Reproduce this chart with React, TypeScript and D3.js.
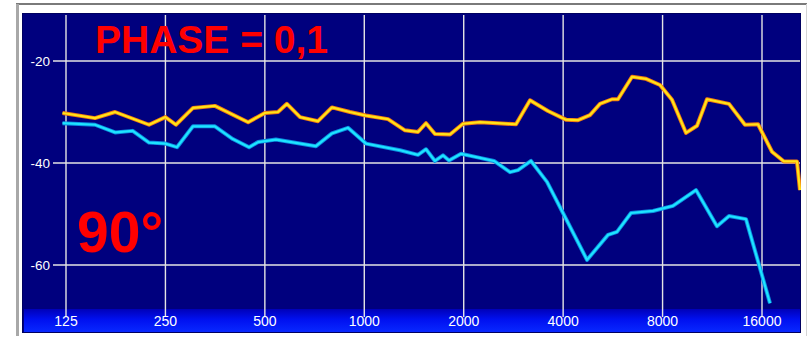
import React, { useRef, useEffect } from 'react'
import * as d3 from 'd3'

// x ticks (Hz) and y ticks (dB)
const FREQ_TICKS = [125, 250, 500, 1000, 2000, 4000, 8000, 16000]
const DB_TICKS = [-20, -40, -60]

// yellow curve
const yellowFreq = [
  122, 153, 176, 223, 250, 269, 303, 353, 445, 500, 548, 583, 639, 724, 798, 905,
  1012, 1180, 1328, 1454, 1538, 1637, 1818, 1990, 2240, 2880, 3175, 3599, 4080,
  4436, 4823, 5172, 5623, 5863, 6465, 7128, 7858, 8544, 9421, 10171, 10904,
  12712, 14210, 15560, 17158, 18647, 20418, 20850,
]
const yellowDb = [
  -30.2, -31.2, -30.0, -32.5, -31.0, -32.5, -29.2, -28.8, -32.0, -30.2, -30.0,
  -28.4, -31.0, -31.8, -29.1, -30.0, -30.7, -31.4, -33.6, -33.9, -32.2, -34.3,
  -34.4, -32.3, -32.0, -32.4, -27.7, -29.8, -31.5, -31.6, -30.6, -28.4, -27.5,
  -27.5, -23.1, -23.5, -24.7, -27.6, -34.1, -32.7, -27.5, -28.4, -32.5, -32.4,
  -37.8, -39.7, -39.7, -45.3,
]

// cyan curve
const cyanFreq = [
  122, 153, 176, 199, 223, 250, 271, 303, 353, 400, 448, 477, 540, 714, 798, 893,
  1012, 1283, 1454, 1538, 1637, 1731, 1805, 1963, 2240, 2470, 2762, 2920, 3197,
  3574, 3996, 4724, 5469, 5822, 6420, 7485, 8603, 10100, 11691, 12712, 14309,
  16917,
]
const cyanDb = [
  -32.2, -32.5, -34.0, -33.7, -36.0, -36.2, -36.9, -32.8, -32.8, -35.3, -36.9,
  -35.9, -35.4, -36.7, -34.2, -33.1, -36.2, -37.5, -38.4, -37.3, -39.6, -38.5,
  -39.5, -38.2, -39.0, -39.6, -41.8, -41.4, -39.6, -43.7, -49.8, -59.0, -54.1,
  -53.5, -49.8, -49.4, -48.4, -45.3, -52.4, -50.4, -51.0, -67.5,
]

const TITLE = 'PHASE = 0,1'
const ANGLE = '90°'

const W = 809
const H = 339

export default function App() {
  const svgRef = useRef<SVGSVGElement | null>(null)

  useEffect(() => {
    if (!svgRef.current) return
    const svg = d3.select(svgRef.current)
    svg.selectAll('*').remove()

    const plot = { left: 22, top: 13, right: 801, bottom: 333 }
    const barTop = 309
    const font = '"Liberation Sans", Arial, sans-serif'

    const x = d3.scaleLog().base(2).domain([125, 16000]).range([66, 762])
    const y = d3.scaleLinear().domain([-20, -60]).range([61, 265])

    const defs = svg.append('defs')
    const grad = defs
      .append('linearGradient')
      .attr('id', 'bar')
      .attr('x1', 0).attr('x2', 0).attr('y1', 0).attr('y2', 1)
    grad.append('stop').attr('offset', '0%').attr('stop-color', '#0000b8')
    grad.append('stop').attr('offset', '45%').attr('stop-color', '#0010f0')
    grad.append('stop').attr('offset', '100%').attr('stop-color', '#0828ff')
    defs
      .append('clipPath')
      .attr('id', 'plotClip')
      .append('rect')
      .attr('x', plot.left)
      .attr('y', plot.top)
      .attr('width', plot.right - plot.left)
      .attr('height', barTop - plot.top)

    // panel frame
    svg.append('rect').attr('width', W).attr('height', H).attr('fill', '#fff')
    svg.append('line').attr('x1', 16).attr('x2', 807).attr('y1', 4).attr('y2', 4)
      .attr('stroke', '#7a7a7a').attr('stroke-width', 2)
    svg.append('line').attr('x1', 17.5).attr('x2', 17.5).attr('y1', 4).attr('y2', 336)
      .attr('stroke', '#a8a8a8').attr('stroke-width', 3)
    svg.append('line').attr('x1', 806.5).attr('x2', 806.5).attr('y1', 4).attr('y2', 336)
      .attr('stroke', '#d4d4d4').attr('stroke-width', 1)

    // plot background + bottom bar
    svg.append('rect')
      .attr('x', plot.left).attr('y', plot.top)
      .attr('width', plot.right - plot.left).attr('height', plot.bottom - plot.top)
      .attr('fill', '#00007e')
    svg.append('rect')
      .attr('x', plot.left + 2).attr('y', barTop)
      .attr('width', plot.right - plot.left - 3).attr('height', plot.bottom - barTop - 1)
      .attr('fill', 'url(#bar)')
    svg.append('rect')
      .attr('x', plot.left + 0.5).attr('y', plot.top + 0.5)
      .attr('width', plot.right - plot.left - 1).attr('height', plot.bottom - plot.top - 1)
      .attr('fill', 'none').attr('stroke', '#000060')

    // grid
    svg.append('g')
      .selectAll('line')
      .data(DB_TICKS)
      .join('line')
      .attr('x1', 53).attr('x2', plot.right - 1)
      .attr('y1', (d) => y(d)).attr('y2', (d) => y(d))
      .attr('stroke', '#e4e4e4').attr('stroke-width', 1.4)
    svg.append('g')
      .selectAll('line')
      .data(FREQ_TICKS)
      .join('line')
      .attr('x1', (d) => x(d)).attr('x2', (d) => x(d))
      .attr('y1', 15).attr('y2', 317)
      .attr('stroke', '#e4e4e4').attr('stroke-width', 1.4)

    // tick labels
    svg.append('g')
      .selectAll('text')
      .data(DB_TICKS)
      .join('text')
      .attr('x', 50).attr('y', (d) => y(d) + 5)
      .attr('text-anchor', 'end')
      .attr('font-family', font).attr('font-size', 13.5)
      .attr('fill', '#fff')
      .text((d) => String(d))
    svg.append('g')
      .selectAll('text')
      .data(FREQ_TICKS)
      .join('text')
      .attr('x', (d) => x(d)).attr('y', 326)
      .attr('text-anchor', 'middle')
      .attr('font-family', font).attr('font-size', 14)
      .attr('fill', '#fff')
      .text((d) => String(d))

    // curves
    const line = d3
      .line<[number, number]>()
      .x((d) => x(d[0]))
      .y((d) => y(d[1]))
    const curves = [
      { f: cyanFreq, v: cyanDb, edge: '#0a8ee0', core: '#1ee4ff' },
      { f: yellowFreq, v: yellowDb, edge: '#f07a10', core: '#ffe418' },
    ]
    const lines = svg.append('g').attr('clip-path', 'url(#plotClip)')
    curves.forEach((c) => {
      const pts = c.f.map((f, i) => [f, c.v[i]] as [number, number])
      lines.append('path')
        .datum(pts)
        .attr('d', line)
        .attr('fill', 'none')
        .attr('stroke', c.edge)
        .attr('stroke-width', 4)
        .attr('stroke-linejoin', 'round')
      lines.append('path')
        .datum(pts)
        .attr('d', line)
        .attr('fill', 'none')
        .attr('stroke', c.core)
        .attr('stroke-width', 2.2)
        .attr('stroke-linejoin', 'round')
    })

    // red annotations
    svg.append('text')
      .attr('x', 95).attr('y', 53)
      .attr('font-family', font).attr('font-weight', 'bold').attr('font-size', 39)
      .attr('fill', '#ff0000')
      .text(TITLE)
    svg.append('text')
      .attr('x', 77).attr('y', 252)
      .attr('font-family', font).attr('font-weight', 'bold').attr('font-size', 57)
      .attr('fill', '#ff0000')
      .text(ANGLE)
  }, [])

  return (
    <>
      <style>{'body{margin:0}'}</style>
      <svg ref={svgRef} width={W} height={H} style={{ display: 'block' }} />
    </>
  )
}
